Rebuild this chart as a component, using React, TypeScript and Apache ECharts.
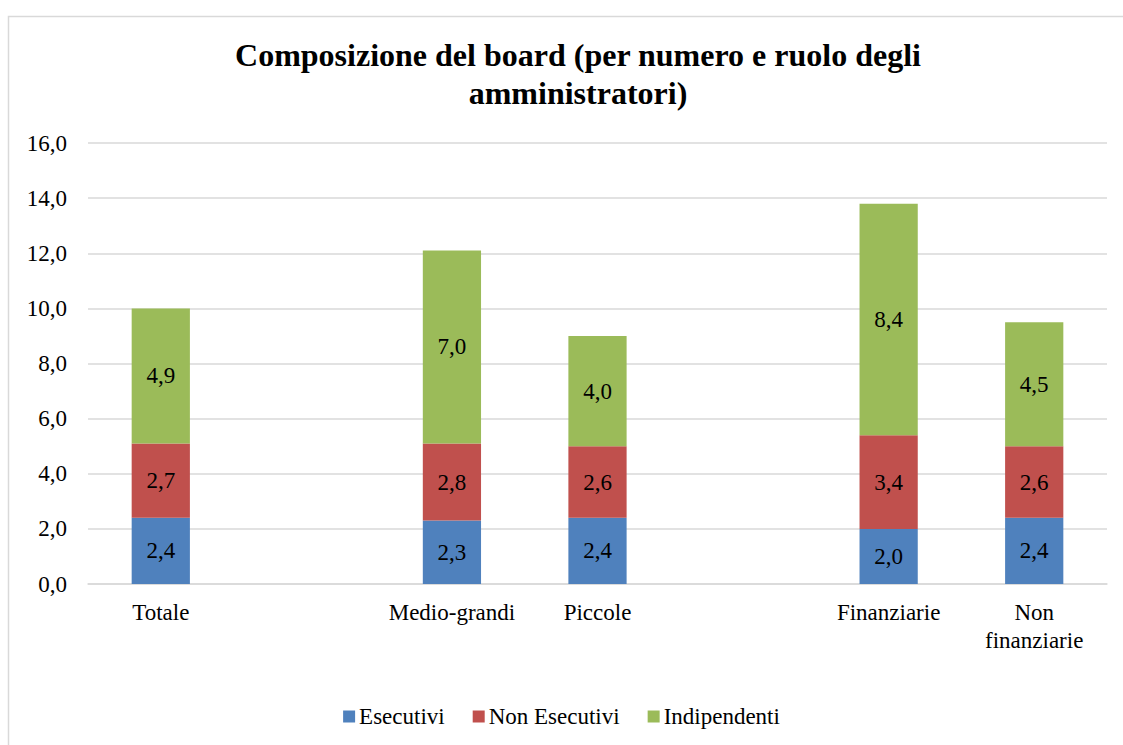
import React, { useEffect, useRef } from "react";
import * as echarts from "echarts";

const categories = ["Totale", "", "Medio-grandi", "Piccole", "", "Finanziarie", "Non\nfinanziarie"];
const esecutivi = [2.4, null, 2.3, 2.4, null, 2.0, 2.4];
const nonEsecutivi = [2.7, null, 2.8, 2.6, null, 3.4, 2.6];
const indipendenti = [4.9, null, 7.0, 4.0, null, 8.4, 4.5];
const yTicks = { min: 0, max: 16, interval: 2 };

const FONT = "Liberation Serif";
const fmt = (v: number) => v.toFixed(1).replace(".", ",");

export default function App() {
  const ref = useRef<HTMLDivElement>(null);
  useEffect(() => {
    if (!ref.current) return;
    const chart = echarts.init(ref.current, undefined, { renderer: "svg" });
    const mkSeries = (name: string, data: (number | null)[], color: string) => ({
      name,
      type: "bar",
      stack: "total",
      barWidth: "40%",
      data: data.map((v) => (v === null ? "-" : v)),
      itemStyle: { color },
      label: {
        show: true,
        position: "inside",
        color: "#000",
        fontFamily: FONT,
        fontSize: 23,
        formatter: (p: any) => fmt(p.value),
      },
    });
    chart.setOption({
      animation: false,
      backgroundColor: "#fff",
      textStyle: { fontFamily: FONT },
      graphic: [
        {
          type: "rect",
          shape: { x: 8.5, y: 16.5, width: 1130, height: 740 },
          style: { fill: "none", stroke: "#D9D9D9", lineWidth: 1.5 },
          silent: true,
        },
      ],
      title: {
        text: "Composizione del board (per numero e ruolo degli\namministratori)",
        left: 573,
        textAlign: "center",
        top: 31,
        textStyle: {
          fontFamily: FONT,
          fontSize: 32,
          fontWeight: "bold",
          color: "#000",
          lineHeight: 38,
        },
      },
      legend: {
        top: 700,
        left: "center",
        itemWidth: 12,
        itemHeight: 12,
        itemGap: 28,
        icon: "rect",
        textStyle: { fontFamily: FONT, fontSize: 23, color: "#000", padding: [0, 0, 0, -1] },
        data: ["Esecutivi", "Non Esecutivi", "Indipendenti"],
      },
      grid: { left: 88, right: 16, top: 143, bottom: 161, containLabel: false },
      xAxis: {
        type: "category",
        data: categories,
        axisTick: { show: false },
        axisLine: { lineStyle: { color: "#D9D9D9", width: 1.5 } },
        axisLabel: {
          interval: 0,
          color: "#000",
          fontFamily: FONT,
          fontSize: 23,
          lineHeight: 28,
          margin: 14,
        },
      },
      yAxis: {
        type: "value",
        min: yTicks.min,
        max: yTicks.max,
        interval: yTicks.interval,
        axisLine: { show: false },
        axisTick: { show: false },
        splitLine: { lineStyle: { color: "#D9D9D9", width: 1.5 } },
        axisLabel: {
          color: "#000",
          fontFamily: FONT,
          fontSize: 23,
          margin: 21,
          formatter: (v: number) => fmt(v),
        },
      },
      series: [
        mkSeries("Esecutivi", esecutivi, "#4F81BD"),
        mkSeries("Non Esecutivi", nonEsecutivi, "#C0504D"),
        mkSeries("Indipendenti", indipendenti, "#9BBB59"),
      ],
    });
    return () => chart.dispose();
  }, []);
  return (
    <div
      ref={ref}
      style={{ position: "fixed", left: 0, top: 0, width: 1123, height: 745 }}
    />
  );
}
